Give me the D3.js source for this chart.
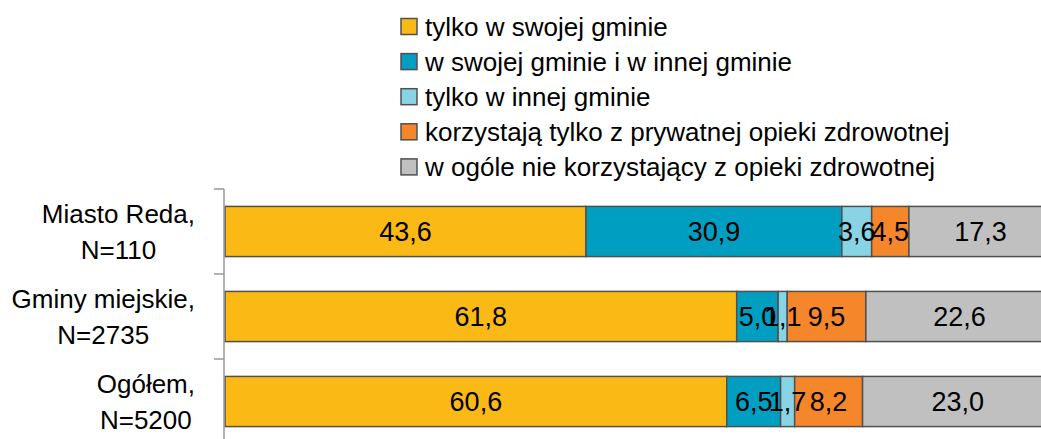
<!DOCTYPE html>
<html>
<head>
<meta charset="utf-8">
<script src="https://cdn.jsdelivr.net/npm/d3@7"></script>
<style>
  body { margin: 0; background: #fff; }
  text { font-family: "Liberation Sans", Arial, sans-serif; fill: #000; }
</style>
</head>
<body>
<div id="chart"></div>
<script>
// data
var categories = [["Miasto Reda,", "N=110"], ["Gminy miejskie,", "N=2735"], ["Ogółem,", "N=5200"]];
var seriesNames = ["tylko w swojej gminie", "w swojej gminie i w innej gminie", "tylko w innej gminie",
  "korzystają tylko z prywatnej opieki zdrowotnej", "w ogóle nie korzystający z opieki zdrowotnej"];
var colors = ["#FBB916", "#009FC2", "#89D4E4", "#F5872A", "#C0C0C0"];
var values = [
  [43.6, 30.9, 3.6, 4.5, 17.3],
  [61.8, 5.0, 1.1, 9.5, 22.6],
  [60.6, 6.5, 1.7, 8.2, 23.0]
];

var w = 1041, h = 439;
var svg = d3.select("#chart").append("svg").attr("width", w).attr("height", h);

var x = d3.scaleLinear().domain([0, 100]).range([225, 1053]);
var y = d3.scaleBand().domain(d3.range(categories.length)).range([189, 189 + 85 * 3]).paddingInner(0.41).paddingOuter(0.205);

// stacked segments
var rows = values.map(function(v, i) {
  var acc = 0;
  return v.map(function(d, j) {
    var s = {row: i, k: j, x0: acc, x1: acc + d, v: d};
    acc += d;
    return s;
  });
});

var g = svg.append("g");
g.selectAll("g.row")
  .data(rows)
  .enter().append("g").attr("class", "row")
  .selectAll("rect")
  .data(function(d) { return d; })
  .enter().append("rect")
  .attr("x", function(d) { return x(d.x0); })
  .attr("y", function(d) { return y(d.row); })
  .attr("width", function(d) { return x(d.x1) - x(d.x0); })
  .attr("height", y.bandwidth())
  .attr("fill", function(d) { return colors[d.k]; })
  .attr("stroke", "#505050")
  .attr("stroke-width", 1.5);

// value labels
g.selectAll("text.val")
  .data(d3.merge(rows))
  .enter().append("text")
  .attr("class", "val")
  .attr("x", function(d) { return (x(d.x0) + x(d.x1)) / 2; })
  .attr("y", function(d) { return y(d.row) + y.bandwidth() / 2; })
  .attr("dy", "0.36em")
  .attr("text-anchor", "middle")
  .style("font-size", "27px")
  .text(function(d) { return d.v.toFixed(1).replace(".", ","); });

// axis
var ax = svg.append("g");
ax.append("line").attr("x1", 224).attr("x2", 224).attr("y1", 189).attr("y2", 189 + 85 * 3)
  .attr("stroke", "#999").attr("stroke-width", 1.5);
ax.selectAll("line.tick")
  .data(d3.range(categories.length + 1))
  .enter().append("line")
  .attr("x1", 214).attr("x2", 224)
  .attr("y1", function(d) { return 189 + d * 85; })
  .attr("y2", function(d) { return 189 + d * 85; })
  .attr("stroke", "#999").attr("stroke-width", 1.5);

// category labels
categories.forEach(function(lines, i) {
  var t = svg.append("text").style("font-size", "26px").attr("text-anchor", "middle");
  var cy = y(i) + y.bandwidth() / 2;
  lines.forEach(function(l, k) {
    t.append("tspan").attr("y", cy - 17.5 + k * 36).attr("dy", "0.36em").text(l);
  });
  var maxW = d3.max(t.selectAll("tspan").nodes(), function(n) { return n.getComputedTextLength(); });
  t.selectAll("tspan").attr("x", 195 - maxW / 2);
});

// legend
var leg = svg.append("g").selectAll("g")
  .data(seriesNames)
  .enter().append("g")
  .attr("transform", function(d, i) { return "translate(401," + (26.5 + i * 35.1) + ")"; });
leg.append("rect").attr("x", 0).attr("y", -8).attr("width", 16).attr("height", 16)
  .attr("fill", function(d, i) { return colors[i]; })
  .attr("stroke", "#505050").attr("stroke-width", 1.5);
leg.append("text").attr("x", 24).attr("dy", "0.36em").style("font-size", "26px")
  .text(function(d) { return d; });
</script>
</body>
</html>
